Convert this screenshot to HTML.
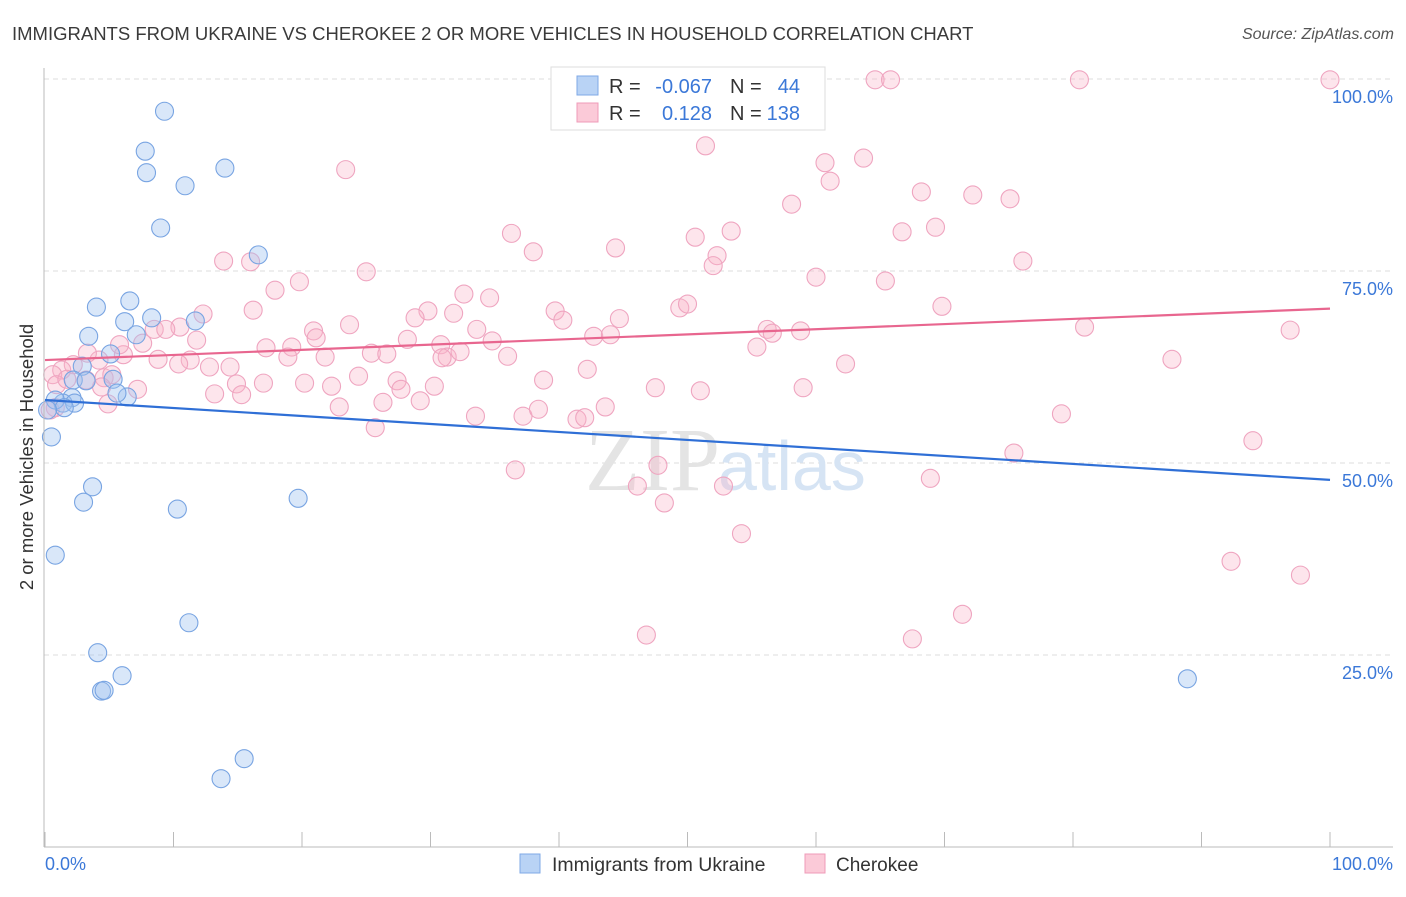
<!DOCTYPE html>
<html><head><meta charset="utf-8"><style>
body{margin:0;background:#fff;font-family:"Liberation Sans",sans-serif}
</style></head><body>
<svg width="1406" height="892" viewBox="0 0 1406 892" xmlns="http://www.w3.org/2000/svg">
<text x="12" y="40" font-size="18.5" fill="#3a3a3a">IMMIGRANTS FROM UKRAINE VS CHEROKEE 2 OR MORE VEHICLES IN HOUSEHOLD CORRELATION CHART</text>
<text x="1394" y="39" font-size="16" fill="#555" text-anchor="end" font-style="italic">Source: ZipAtlas.com</text>
<text transform="translate(33,457) rotate(-90)" font-size="18.5" fill="#333" text-anchor="middle">2 or more Vehicles in Household</text>
<g id="grid"></g>
<text x="720" y="490" font-size="90" fill="#e4e4e4" text-anchor="end" font-family="Liberation Serif">ZIP</text>
<text x="718" y="490" font-size="70" fill="#d6e4f4">atlas</text>
<g id="pts"></g>
<g id="lines"></g>
<line x1="44" y1="68" x2="44" y2="847" stroke="#bbb"/>
<line x1="44" y1="847" x2="1393" y2="847" stroke="#bbb"/>
<text x="45" y="870" font-size="18" fill="#3b78d8">0.0%</text>
<text x="1393" y="870" font-size="18" fill="#3b78d8" text-anchor="end">100.0%</text>
<g>
<rect x="551" y="67" width="274" height="63" fill="#fff" stroke="#ddd"/>
<rect x="577" y="76" width="21" height="19" fill="#b9d3f5" stroke="#7fa8e6"/>
<rect x="577" y="103" width="21" height="19" fill="#fbcad8" stroke="#ef9bb8"/>
<text x="609" y="93" font-size="20" fill="#333">R =</text>
<text x="712" y="93" font-size="20" fill="#3b78d8" text-anchor="end">-0.067</text>
<text x="730" y="93" font-size="20" fill="#333">N =</text>
<text x="800" y="93" font-size="20" fill="#3b78d8" text-anchor="end">44</text>
<text x="609" y="120" font-size="20" fill="#333">R =</text>
<text x="712" y="120" font-size="20" fill="#3b78d8" text-anchor="end">0.128</text>
<text x="730" y="120" font-size="20" fill="#333">N =</text>
<text x="800" y="120" font-size="20" fill="#3b78d8" text-anchor="end">138</text>
</g>
<g><rect x="520" y="854" width="20" height="19" fill="#b9d3f5" stroke="#7fa8e6"/><text x="552" y="871" font-size="19.5" fill="#333">Immigrants from Ukraine</text></g>
<g><rect x="805" y="854" width="20" height="19" fill="#fbcad8" stroke="#ef9bb8"/><text x="836" y="871" font-size="19" fill="#333">Cherokee</text></g>
</svg>
<script>
const yTicks=[25,50,75,100];
const xTicks=[0,10,20,30,40,50,60,70,80,90,100];
const blueX=[9.3,7.8,7.9,10.9,14.0,9.0,16.6,6.6,4.0,6.2,8.3,11.7,3.4,7.1,5.1,2.9,2.2,3.2,5.3,6.4,5.6,2.1,1.4,2.3,0.8,1.5,0.2,0.5,3.7,3.0,10.3,19.7,0.8,11.2,4.1,6.0,4.4,4.6,15.5,13.7,88.9,50.0];
const blueY=[95.8,90.6,87.8,86.1,88.4,80.6,77.1,71.1,70.3,68.4,68.9,68.5,66.5,66.7,64.2,62.6,60.8,60.7,60.9,58.6,59.1,58.5,57.8,57.8,58.2,57.2,56.9,53.4,46.9,44.9,44.0,45.4,38.0,29.2,25.3,22.3,20.3,20.4,11.5,8.9,21.9,100.1];
const pinkX=[100,80.5,64.6,65.8,53.7,51.4,23.4,60.7,63.7,61.1,68.2,72.2,75.1,58.1,36.3,38.0,44.4,50.6,53.4,66.7,69.3,52.3,52.0,60.0,65.4,76.1,25.0,13.9,16.0,17.9,19.8,16.2,12.3,10.5,8.5,9.4,11.8,32.6,34.6,39.7,40.3,29.8,28.8,31.8,33.6,34.8,36.0,44.7,42.7,44.0,49.4,50.0,56.2,56.6,58.8,55.4,69.8,80.9,96.9,87.7,62.3,23.7,20.9,21.1,17.2,19.2,18.9,21.8,25.4,26.6,28.2,30.8,31.3,32.3,30.9,14.4,14.9,12.8,11.3,10.4,8.8,7.6,6.1,5.8,4.2,3.3,2.2,1.3,0.6,0.9,4.6,5.2,4.4,7.2,17.0,20.2,22.3,24.4,27.4,27.7,30.3,29.2,26.3,22.9,13.2,15.3,4.9,0.8,0.4,33.5,37.2,38.4,38.8,41.4,42.0,43.6,42.2,47.5,51.0,59.0,79.1,25.7,36.6,47.7,46.1,48.2,52.8,68.9,75.4,94.0,54.2,92.3,97.7,71.4,67.5,46.8,3.2,1.7];
const pinkY=[99.9,99.9,99.9,99.9,99.9,91.3,88.2,89.1,89.7,86.7,85.3,84.9,84.4,83.7,79.9,77.5,78.0,79.4,80.2,80.1,80.7,77.0,75.7,74.2,73.7,76.3,74.9,76.3,76.2,72.5,73.6,69.9,69.4,67.7,67.4,67.4,66.0,72.0,71.5,69.8,68.6,69.8,68.9,69.5,67.4,65.9,63.9,68.8,66.5,66.7,70.2,70.7,67.4,66.9,67.2,65.1,70.4,67.7,67.3,63.5,62.9,68.0,67.2,66.3,65.0,65.1,63.8,63.8,64.3,64.2,66.1,65.4,63.8,64.5,63.7,62.5,60.3,62.5,63.4,62.9,63.5,65.6,64.1,65.4,63.4,64.3,62.8,62.1,61.5,60.2,61.1,61.5,59.9,59.6,60.4,60.4,60.0,61.3,60.7,59.6,60.0,58.1,57.9,57.3,59.0,58.9,57.7,57.2,56.9,56.1,56.1,57.0,60.8,55.7,55.9,57.3,62.2,59.8,59.4,59.8,56.4,54.6,49.1,49.7,47.0,44.8,47.0,48.0,51.3,52.9,40.8,37.2,35.4,30.3,27.1,27.6,60.8,60.9];
const blueTrend=[58.2,47.8];
const pinkTrend=[63.4,70.1];
const NS='http://www.w3.org/2000/svg';
const X=v=>45+v*12.85, Y=v=>847-v*7.68;
function mk(t,a,p){const e=document.createElementNS(NS,t);for(const k in a)e.setAttribute(k,a[k]);document.getElementById(p).appendChild(e);return e;}
yTicks.forEach(t=>{
 const l=mk('line',{x1:44,x2:1393,y1:Y(t),y2:Y(t),stroke:'#ddd','stroke-dasharray':'5,4'},'grid');
 
 
 const tx=mk('text',{x:1393,y:Y(t)+24,'font-size':18,fill:'#3b78d8','text-anchor':'end'},'grid');
 tx.textContent=t.toFixed(1)+'%';
 
 
});
xTicks.forEach(t=>{
 const l=mk('line',{x1:X(t),x2:X(t),y1:832,y2:847,stroke:'#bbb'},'grid');
 
 
});
pinkX.forEach((v,i)=>{
 const c=mk('circle',{cx:X(v),cy:Y(pinkY[i]),r:9,fill:'rgba(248,180,200,0.35)',stroke:'#efa5c0','stroke-width':1.1},'pts');
 
 
});
blueX.forEach((v,i)=>{
 const c=mk('circle',{cx:X(v),cy:Y(blueY[i]),r:9,fill:'rgba(160,196,240,0.4)',stroke:'#78a4e2','stroke-width':1.1},'pts');
 
 
});
const bl=mk('line',{x1:X(0),y1:Y(blueTrend[0]),x2:X(100),y2:Y(blueTrend[1]),stroke:'#2f6fd6','stroke-width':2.2},'lines');


const pl=mk('line',{x1:X(0),y1:Y(pinkTrend[0]),x2:X(100),y2:Y(pinkTrend[1]),stroke:'#e8668f','stroke-width':2.2},'lines');


</script>
</body></html>
